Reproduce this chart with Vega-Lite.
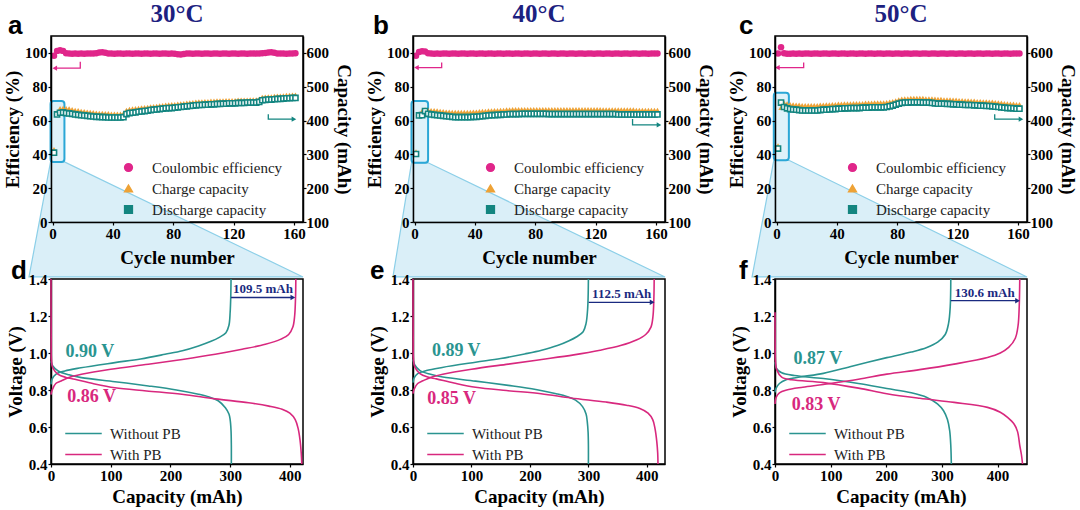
{
"$schema": "https://vega.github.io/schema/vega-lite/v6.json",
"padding": {"left": 2, "top": 0, "right": 0, "bottom": 0},
"config": {
  "view": {"stroke": "#000", "strokeWidth": 1.5},
  "font": "Liberation Serif",
  "axis": {"grid": false, "domainColor": "#000", "domainWidth": 1.5, "tickColor": "#000", "tickSize": 3, "tickWidth": 1.2, "labelFont": "Liberation Serif", "labelFontWeight": "bold", "labelFontSize": 15, "labelColor": "#000", "titleFont": "Liberation Serif", "titleFontWeight": "bold", "titleFontSize": 19, "titleColor": "#000", "labelFlush": false, "labelOverlap": false, "labelBound": false, "labelSeparation": -40, "zindex": 2},
  "legend": {"labelFont": "Liberation Serif", "labelFontSize": 15, "labelColor": "#222"}
},
"datasets": {
"cA": [
{"c":1,"e":98.3,"q":315,"d":305},{"c":3,"e":101.2,"q":424,"d":418},{"c":5,"e":101.6,"q":436,"d":423},{"c":7,"e":101.2,"q":437,"d":424},{"c":9,"e":99.8,"q":436,"d":422},
{"c":11,"e":99.6,"q":435,"d":421},{"c":13,"e":99.5,"q":433,"d":420},{"c":15,"e":99.6,"q":431,"d":418},{"c":17,"e":99.5,"q":430,"d":417},{"c":19,"e":99.6,"q":428,"d":416},
{"c":21,"e":99.5,"q":427,"d":415},{"c":23,"e":99.6,"q":426,"d":414},{"c":25,"e":99.6,"q":425,"d":413},{"c":27,"e":99.7,"q":424,"d":412},{"c":29,"e":99.8,"q":423,"d":411},
{"c":31,"e":100.2,"q":422,"d":411},{"c":33,"e":100.4,"q":422,"d":410},{"c":35,"e":100.1,"q":421,"d":410},{"c":37,"e":99.7,"q":421,"d":409},{"c":39,"e":99.6,"q":420,"d":409},
{"c":41,"e":99.5,"q":420,"d":409},{"c":43,"e":99.6,"q":420,"d":409},{"c":45,"e":99.6,"q":420,"d":409},{"c":47,"e":99.5,"q":421,"d":410},{"c":49,"e":99.7,"q":431,"d":419},
{"c":51,"e":99.6,"q":434,"d":422},{"c":53,"e":99.5,"q":435,"d":423},{"c":55,"e":99.6,"q":436,"d":424},{"c":57,"e":99.6,"q":437,"d":426},{"c":59,"e":99.5,"q":438,"d":427},
{"c":61,"e":99.6,"q":439,"d":428},{"c":63,"e":99.6,"q":440,"d":429},{"c":65,"e":99.5,"q":441,"d":431},{"c":67,"e":99.6,"q":442,"d":432},{"c":69,"e":99.6,"q":443,"d":433},
{"c":71,"e":99.5,"q":444,"d":434},{"c":73,"e":99.6,"q":445,"d":435},{"c":75,"e":99.6,"q":446,"d":436},{"c":77,"e":99.5,"q":447,"d":437},{"c":79,"e":99.6,"q":448,"d":437},
{"c":81,"e":99.5,"q":448,"d":438},{"c":83,"e":99.2,"q":449,"d":439},{"c":85,"e":99.0,"q":450,"d":440},{"c":87,"e":99.4,"q":451,"d":441},{"c":89,"e":99.6,"q":452,"d":442},
{"c":91,"e":99.6,"q":453,"d":443},{"c":93,"e":99.5,"q":454,"d":444},{"c":95,"e":99.6,"q":455,"d":445},{"c":97,"e":99.6,"q":456,"d":446},{"c":99,"e":99.5,"q":456,"d":446},
{"c":101,"e":99.6,"q":457,"d":447},{"c":103,"e":99.6,"q":457,"d":447},{"c":105,"e":99.5,"q":458,"d":448},{"c":107,"e":99.6,"q":458,"d":448},{"c":109,"e":99.6,"q":459,"d":449},
{"c":111,"e":99.5,"q":459,"d":449},{"c":113,"e":99.6,"q":459,"d":450},{"c":115,"e":99.6,"q":460,"d":450},{"c":117,"e":99.5,"q":460,"d":451},{"c":119,"e":99.6,"q":460,"d":451},
{"c":121,"e":99.6,"q":460,"d":451},{"c":123,"e":99.5,"q":461,"d":452},{"c":125,"e":99.6,"q":461,"d":452},{"c":127,"e":99.6,"q":461,"d":452},{"c":129,"e":99.5,"q":461,"d":453},
{"c":131,"e":99.6,"q":462,"d":453},{"c":133,"e":99.6,"q":462,"d":453},{"c":135,"e":99.6,"q":462,"d":453},{"c":137,"e":99.7,"q":464,"d":455},{"c":139,"e":99.8,"q":469,"d":460},
{"c":141,"e":99.9,"q":470,"d":461},{"c":143,"e":100.2,"q":471,"d":462},{"c":145,"e":100.4,"q":471,"d":462},{"c":147,"e":100.1,"q":472,"d":463},{"c":149,"e":99.7,"q":473,"d":464},
{"c":151,"e":99.6,"q":473,"d":464},{"c":153,"e":99.6,"q":474,"d":465},{"c":155,"e":99.5,"q":475,"d":466},{"c":157,"e":99.6,"q":475,"d":466},{"c":159,"e":99.7,"q":476,"d":467},
{"c":161,"e":99.8,"q":476,"d":467}
],
"cB": [
{"c":1,"e":98.3,"q":308,"d":301},{"c":3,"e":100.6,"q":420,"d":415},{"c":5,"e":101.0,"q":428,"d":416},{"c":7,"e":100.9,"q":432,"d":428},{"c":9,"e":99.8,"q":431,"d":420},
{"c":11,"e":99.6,"q":430,"d":418},{"c":13,"e":99.5,"q":430,"d":417},{"c":15,"e":99.6,"q":429,"d":416},{"c":17,"e":99.5,"q":428,"d":415},{"c":19,"e":99.6,"q":427,"d":414},
{"c":21,"e":99.6,"q":426,"d":413},{"c":23,"e":99.5,"q":426,"d":412},{"c":25,"e":99.6,"q":425,"d":411},{"c":27,"e":99.6,"q":425,"d":410},{"c":29,"e":99.5,"q":425,"d":410},
{"c":31,"e":99.6,"q":425,"d":410},{"c":33,"e":99.6,"q":425,"d":410},{"c":35,"e":99.5,"q":425,"d":410},{"c":37,"e":99.6,"q":425,"d":410},{"c":39,"e":99.6,"q":426,"d":411},
{"c":41,"e":99.5,"q":426,"d":411},{"c":43,"e":99.6,"q":427,"d":412},{"c":45,"e":99.6,"q":428,"d":413},{"c":47,"e":99.5,"q":428,"d":414},{"c":49,"e":99.6,"q":429,"d":415},
{"c":51,"e":99.6,"q":429,"d":416},{"c":53,"e":99.5,"q":430,"d":416},{"c":55,"e":99.6,"q":430,"d":417},{"c":57,"e":99.6,"q":431,"d":417},{"c":59,"e":99.5,"q":431,"d":418},
{"c":61,"e":99.6,"q":432,"d":418},{"c":63,"e":99.6,"q":432,"d":419},{"c":65,"e":99.5,"q":433,"d":419},{"c":67,"e":99.6,"q":433,"d":419},{"c":69,"e":99.6,"q":433,"d":419},
{"c":71,"e":99.5,"q":433,"d":420},{"c":73,"e":99.6,"q":433,"d":420},{"c":75,"e":99.6,"q":433,"d":420},{"c":77,"e":99.5,"q":433,"d":420},{"c":79,"e":99.6,"q":433,"d":420},
{"c":81,"e":99.6,"q":433,"d":420},{"c":83,"e":99.5,"q":433,"d":420},{"c":85,"e":99.6,"q":433,"d":420},{"c":87,"e":99.6,"q":433,"d":420},{"c":89,"e":99.5,"q":433,"d":419},
{"c":91,"e":99.6,"q":433,"d":419},{"c":93,"e":99.6,"q":433,"d":419},{"c":95,"e":99.5,"q":433,"d":419},{"c":97,"e":99.6,"q":433,"d":419},{"c":99,"e":99.6,"q":433,"d":419},
{"c":101,"e":99.5,"q":433,"d":419},{"c":103,"e":99.6,"q":433,"d":419},{"c":105,"e":99.6,"q":433,"d":419},{"c":107,"e":99.5,"q":433,"d":419},{"c":109,"e":99.6,"q":433,"d":419},
{"c":111,"e":99.6,"q":433,"d":419},{"c":113,"e":99.5,"q":433,"d":419},{"c":115,"e":99.6,"q":433,"d":419},{"c":117,"e":99.6,"q":433,"d":419},{"c":119,"e":99.5,"q":433,"d":419},
{"c":121,"e":99.6,"q":433,"d":419},{"c":123,"e":99.6,"q":433,"d":419},{"c":125,"e":99.5,"q":432,"d":419},{"c":127,"e":99.6,"q":432,"d":419},{"c":129,"e":99.6,"q":432,"d":419},
{"c":131,"e":99.5,"q":432,"d":419},{"c":133,"e":99.6,"q":432,"d":419},{"c":135,"e":99.6,"q":432,"d":418},{"c":137,"e":99.5,"q":432,"d":418},{"c":139,"e":99.6,"q":432,"d":418},
{"c":141,"e":99.6,"q":432,"d":418},{"c":143,"e":99.5,"q":432,"d":418},{"c":145,"e":99.6,"q":432,"d":418},{"c":147,"e":99.6,"q":431,"d":418},{"c":149,"e":99.5,"q":431,"d":418},
{"c":151,"e":99.6,"q":431,"d":418},{"c":153,"e":99.6,"q":431,"d":418},{"c":155,"e":99.5,"q":431,"d":418},{"c":157,"e":99.6,"q":431,"d":418},{"c":159,"e":99.6,"q":431,"d":418},
{"c":161,"e":99.6,"q":431,"d":418}
],
"cC": [
{"c":1,"e":99.6,"q":326,"d":317},{"c":3,"e":103.4,"q":438,"d":453},{"c":5,"e":99.8,"q":452,"d":440},{"c":7,"e":99.5,"q":450,"d":436},{"c":9,"e":99.5,"q":448,"d":434},
{"c":11,"e":99.6,"q":447,"d":433},{"c":13,"e":99.5,"q":446,"d":432},{"c":15,"e":99.6,"q":446,"d":431},{"c":17,"e":99.5,"q":445,"d":430},{"c":19,"e":99.6,"q":445,"d":430},
{"c":21,"e":99.6,"q":445,"d":430},{"c":23,"e":99.5,"q":445,"d":430},{"c":25,"e":99.6,"q":445,"d":430},{"c":27,"e":99.6,"q":445,"d":430},{"c":29,"e":99.5,"q":446,"d":431},
{"c":31,"e":99.6,"q":446,"d":432},{"c":33,"e":99.6,"q":447,"d":432},{"c":35,"e":99.5,"q":447,"d":433},{"c":37,"e":99.6,"q":448,"d":434},{"c":39,"e":99.6,"q":448,"d":434},
{"c":41,"e":99.5,"q":449,"d":435},{"c":43,"e":99.6,"q":449,"d":435},{"c":45,"e":99.6,"q":450,"d":436},{"c":47,"e":99.5,"q":450,"d":436},{"c":49,"e":99.6,"q":450,"d":437},
{"c":51,"e":99.6,"q":451,"d":437},{"c":53,"e":99.5,"q":451,"d":437},{"c":55,"e":99.6,"q":451,"d":437},{"c":57,"e":99.6,"q":451,"d":438},{"c":59,"e":99.5,"q":452,"d":438},
{"c":61,"e":99.6,"q":452,"d":438},{"c":63,"e":99.6,"q":452,"d":439},{"c":65,"e":99.5,"q":453,"d":439},{"c":67,"e":99.6,"q":453,"d":439},{"c":69,"e":99.6,"q":453,"d":439},
{"c":71,"e":99.5,"q":453,"d":439},{"c":73,"e":99.6,"q":454,"d":440},{"c":75,"e":99.6,"q":455,"d":442},{"c":77,"e":99.5,"q":457,"d":444},{"c":79,"e":99.6,"q":459,"d":447},
{"c":81,"e":99.6,"q":462,"d":450},{"c":83,"e":99.5,"q":464,"d":452},{"c":85,"e":99.6,"q":465,"d":453},{"c":87,"e":99.6,"q":465,"d":453},{"c":89,"e":99.5,"q":466,"d":454},
{"c":91,"e":99.6,"q":466,"d":454},{"c":93,"e":99.6,"q":466,"d":454},{"c":95,"e":99.5,"q":466,"d":454},{"c":97,"e":99.6,"q":466,"d":453},{"c":99,"e":99.6,"q":465,"d":453},
{"c":101,"e":99.5,"q":465,"d":453},{"c":103,"e":99.6,"q":465,"d":452},{"c":105,"e":99.6,"q":464,"d":451},{"c":107,"e":99.5,"q":463,"d":450},{"c":109,"e":99.6,"q":463,"d":450},
{"c":111,"e":99.6,"q":462,"d":450},{"c":113,"e":99.5,"q":462,"d":449},{"c":115,"e":99.6,"q":462,"d":449},{"c":117,"e":99.6,"q":461,"d":448},{"c":119,"e":99.5,"q":461,"d":448},
{"c":121,"e":99.6,"q":460,"d":447},{"c":123,"e":99.6,"q":460,"d":447},{"c":125,"e":99.5,"q":459,"d":446},{"c":127,"e":99.6,"q":459,"d":446},{"c":129,"e":99.6,"q":458,"d":446},
{"c":131,"e":99.5,"q":458,"d":445},{"c":133,"e":99.6,"q":457,"d":445},{"c":135,"e":99.6,"q":457,"d":444},{"c":137,"e":99.5,"q":456,"d":444},{"c":139,"e":99.6,"q":456,"d":443},
{"c":141,"e":99.6,"q":455,"d":443},{"c":143,"e":99.5,"q":455,"d":442},{"c":145,"e":99.6,"q":454,"d":441},{"c":147,"e":99.6,"q":453,"d":440},{"c":149,"e":99.5,"q":452,"d":439},
{"c":151,"e":99.6,"q":451,"d":438},{"c":153,"e":99.6,"q":450,"d":437},{"c":155,"e":99.5,"q":449,"d":437},{"c":157,"e":99.6,"q":449,"d":436},{"c":159,"e":99.6,"q":448,"d":435},
{"c":161,"e":99.6,"q":448,"d":435}
],
"tA": [{"y":35.5,"x":-1.3,"x2":7.9},{"y":-32.5,"x":-15.6,"x2":166}],
"tB": [{"y":35,"x":-2,"x2":9},{"y":-32.5,"x":-14.3,"x2":166}],
"tC": [{"y":36.5,"x":-1.8,"x2":8.2},{"y":-32.5,"x":-16.2,"x2":166}],
"rA": [{"x":-1.3,"x2":7.9,"y":35.5,"y2":71.6}],
"rB": [{"x":-2,"x2":9,"y":35,"y2":71.6}],
"rC": [{"x":-1.8,"x2":8.2,"y":36.5,"y2":76.5}],
"aA": [{"k":"m","i":0,"x":18.4,"y":94.7},{"k":"m","i":1,"x":18.4,"y":91},{"k":"m","i":2,"x":1.5,"y":91},{"k":"t","i":0,"x":143,"y":63.7},{"k":"t","i":1,"x":143,"y":60.8},{"k":"t","i":2,"x":160,"y":60.8}],
"aB": [{"k":"m","i":0,"x":18,"y":94.3},{"k":"m","i":1,"x":18,"y":91.3},{"k":"m","i":2,"x":1.3,"y":91.3},{"k":"t","i":0,"x":144.5,"y":60.9},{"k":"t","i":1,"x":144.5,"y":57.4},{"k":"t","i":2,"x":162,"y":57.4}],
"aC": [{"k":"m","i":0,"x":18,"y":94.3},{"k":"m","i":1,"x":18,"y":91.3},{"k":"m","i":2,"x":0.6,"y":91.3},{"k":"t","i":0,"x":144.6,"y":63.7},{"k":"t","i":1,"x":144.6,"y":60.8},{"k":"t","i":2,"x":162,"y":60.8}],
"vD": [
{"s":"Without PB","g":"c","i":0,"x":0,"v":0.83},{"s":"Without PB","g":"c","i":1,"x":2,"v":0.86},{"s":"Without PB","g":"c","i":2,"x":8,"v":0.885},{"s":"Without PB","g":"c","i":3,"x":23,"v":0.903},{"s":"Without PB","g":"c","i":4,"x":50,"v":0.92},{"s":"Without PB","g":"c","i":5,"x":107,"v":0.948},{"s":"Without PB","g":"c","i":6,"x":150,"v":0.968},{"s":"Without PB","g":"c","i":7,"x":191,"v":0.993},{"s":"Without PB","g":"c","i":8,"x":220,"v":1.012},{"s":"Without PB","g":"c","i":9,"x":247,"v":1.038},{"s":"Without PB","g":"c","i":10,"x":268,"v":1.063},{"s":"Without PB","g":"c","i":11,"x":281,"v":1.083},{"s":"Without PB","g":"c","i":12,"x":293,"v":1.11},{"s":"Without PB","g":"c","i":13,"x":298,"v":1.15},{"s":"Without PB","g":"c","i":14,"x":300,"v":1.22},{"s":"Without PB","g":"c","i":15,"x":301,"v":1.3},{"s":"Without PB","g":"c","i":16,"x":301.5,"v":1.4},
{"s":"Without PB","g":"d","i":0,"x":0,"v":0.955},{"s":"Without PB","g":"d","i":1,"x":3,"v":0.93},{"s":"Without PB","g":"d","i":2,"x":12,"v":0.903},{"s":"Without PB","g":"d","i":3,"x":30,"v":0.882},{"s":"Without PB","g":"d","i":4,"x":51,"v":0.867},{"s":"Without PB","g":"d","i":5,"x":107,"v":0.845},{"s":"Without PB","g":"d","i":6,"x":163,"v":0.822},{"s":"Without PB","g":"d","i":7,"x":210,"v":0.8},{"s":"Without PB","g":"d","i":8,"x":247,"v":0.777},{"s":"Without PB","g":"d","i":9,"x":265,"v":0.762},{"s":"Without PB","g":"d","i":10,"x":280,"v":0.742},{"s":"Without PB","g":"d","i":11,"x":292,"v":0.704},{"s":"Without PB","g":"d","i":12,"x":298,"v":0.67},{"s":"Without PB","g":"d","i":13,"x":300,"v":0.64},{"s":"Without PB","g":"d","i":14,"x":301.5,"v":0.58},{"s":"Without PB","g":"d","i":15,"x":302,"v":0.5},{"s":"Without PB","g":"d","i":16,"x":302,"v":0.4},
{"s":"With PB","g":"c","i":0,"x":0,"v":0.775},{"s":"With PB","g":"c","i":1,"x":2,"v":0.8},{"s":"With PB","g":"c","i":2,"x":8,"v":0.835},{"s":"With PB","g":"c","i":3,"x":17,"v":0.849},{"s":"With PB","g":"c","i":4,"x":30,"v":0.868},{"s":"With PB","g":"c","i":5,"x":51,"v":0.885},{"s":"With PB","g":"c","i":6,"x":100,"v":0.912},{"s":"With PB","g":"c","i":7,"x":163,"v":0.939},{"s":"With PB","g":"c","i":8,"x":220,"v":0.965},{"s":"With PB","g":"c","i":9,"x":275,"v":0.993},{"s":"With PB","g":"c","i":10,"x":320,"v":1.02},{"s":"With PB","g":"c","i":11,"x":359,"v":1.047},{"s":"With PB","g":"c","i":12,"x":385,"v":1.075},{"s":"With PB","g":"c","i":13,"x":398,"v":1.1},{"s":"With PB","g":"c","i":14,"x":405,"v":1.14},{"s":"With PB","g":"c","i":15,"x":408,"v":1.2},{"s":"With PB","g":"c","i":16,"x":409.5,"v":1.3},{"s":"With PB","g":"c","i":17,"x":410,"v":1.4},
{"s":"With PB","g":"d","i":0,"x":0,"v":1.4},{"s":"With PB","g":"d","i":1,"x":0.3,"v":1.1},{"s":"With PB","g":"d","i":2,"x":0.8,"v":0.96},{"s":"With PB","g":"d","i":3,"x":3,"v":0.92},{"s":"With PB","g":"d","i":4,"x":12,"v":0.885},{"s":"With PB","g":"d","i":5,"x":25,"v":0.868},{"s":"With PB","g":"d","i":6,"x":40,"v":0.858},{"s":"With PB","g":"d","i":7,"x":70,"v":0.835},{"s":"With PB","g":"d","i":8,"x":107,"v":0.812},{"s":"With PB","g":"d","i":9,"x":160,"v":0.795},{"s":"With PB","g":"d","i":10,"x":219,"v":0.777},{"s":"With PB","g":"d","i":11,"x":275,"v":0.752},{"s":"With PB","g":"d","i":12,"x":331,"v":0.731},{"s":"With PB","g":"d","i":13,"x":365,"v":0.713},{"s":"With PB","g":"d","i":14,"x":387,"v":0.696},{"s":"With PB","g":"d","i":15,"x":400,"v":0.675},{"s":"With PB","g":"d","i":16,"x":409,"v":0.64},{"s":"With PB","g":"d","i":17,"x":414,"v":0.59},{"s":"With PB","g":"d","i":18,"x":417,"v":0.53},{"s":"With PB","g":"d","i":19,"x":419,"v":0.46},{"s":"With PB","g":"d","i":20,"x":420,"v":0.4}
],
"vE": [
{"s":"Without PB","g":"c","i":0,"x":0,"v":0.84},{"s":"Without PB","g":"c","i":1,"x":2,"v":0.865},{"s":"Without PB","g":"c","i":2,"x":8,"v":0.888},{"s":"Without PB","g":"c","i":3,"x":23,"v":0.905},{"s":"Without PB","g":"c","i":4,"x":50,"v":0.922},{"s":"Without PB","g":"c","i":5,"x":107,"v":0.95},{"s":"Without PB","g":"c","i":6,"x":150,"v":0.97},{"s":"Without PB","g":"c","i":7,"x":191,"v":0.995},{"s":"Without PB","g":"c","i":8,"x":220,"v":1.015},{"s":"Without PB","g":"c","i":9,"x":247,"v":1.04},{"s":"Without PB","g":"c","i":10,"x":266,"v":1.065},{"s":"Without PB","g":"c","i":11,"x":280,"v":1.088},{"s":"Without PB","g":"c","i":12,"x":291,"v":1.115},{"s":"Without PB","g":"c","i":13,"x":296,"v":1.16},{"s":"Without PB","g":"c","i":14,"x":298.5,"v":1.23},{"s":"Without PB","g":"c","i":15,"x":299.5,"v":1.3},{"s":"Without PB","g":"c","i":16,"x":300,"v":1.4},
{"s":"Without PB","g":"d","i":0,"x":0,"v":0.965},{"s":"Without PB","g":"d","i":1,"x":3,"v":0.935},{"s":"Without PB","g":"d","i":2,"x":12,"v":0.905},{"s":"Without PB","g":"d","i":3,"x":30,"v":0.885},{"s":"Without PB","g":"d","i":4,"x":51,"v":0.87},{"s":"Without PB","g":"d","i":5,"x":107,"v":0.848},{"s":"Without PB","g":"d","i":6,"x":163,"v":0.825},{"s":"Without PB","g":"d","i":7,"x":210,"v":0.803},{"s":"Without PB","g":"d","i":8,"x":245,"v":0.78},{"s":"Without PB","g":"d","i":9,"x":263,"v":0.765},{"s":"Without PB","g":"d","i":10,"x":278,"v":0.745},{"s":"Without PB","g":"d","i":11,"x":290,"v":0.71},{"s":"Without PB","g":"d","i":12,"x":296,"v":0.67},{"s":"Without PB","g":"d","i":13,"x":298,"v":0.63},{"s":"Without PB","g":"d","i":14,"x":299.5,"v":0.57},{"s":"Without PB","g":"d","i":15,"x":300,"v":0.5},{"s":"Without PB","g":"d","i":16,"x":300,"v":0.4},
{"s":"With PB","g":"c","i":0,"x":0,"v":0.78},{"s":"With PB","g":"c","i":1,"x":2,"v":0.805},{"s":"With PB","g":"c","i":2,"x":8,"v":0.835},{"s":"With PB","g":"c","i":3,"x":17,"v":0.85},{"s":"With PB","g":"c","i":4,"x":30,"v":0.868},{"s":"With PB","g":"c","i":5,"x":51,"v":0.885},{"s":"With PB","g":"c","i":6,"x":100,"v":0.912},{"s":"With PB","g":"c","i":7,"x":163,"v":0.94},{"s":"With PB","g":"c","i":8,"x":220,"v":0.965},{"s":"With PB","g":"c","i":9,"x":275,"v":0.99},{"s":"With PB","g":"c","i":10,"x":320,"v":1.015},{"s":"With PB","g":"c","i":11,"x":355,"v":1.04},{"s":"With PB","g":"c","i":12,"x":382,"v":1.07},{"s":"With PB","g":"c","i":13,"x":398,"v":1.1},{"s":"With PB","g":"c","i":14,"x":407,"v":1.14},{"s":"With PB","g":"c","i":15,"x":410.5,"v":1.2},{"s":"With PB","g":"c","i":16,"x":412,"v":1.3},{"s":"With PB","g":"c","i":17,"x":412.5,"v":1.4},
{"s":"With PB","g":"d","i":0,"x":0,"v":1.4},{"s":"With PB","g":"d","i":1,"x":0.3,"v":1.1},{"s":"With PB","g":"d","i":2,"x":0.8,"v":0.965},{"s":"With PB","g":"d","i":3,"x":3,"v":0.925},{"s":"With PB","g":"d","i":4,"x":12,"v":0.888},{"s":"With PB","g":"d","i":5,"x":25,"v":0.87},{"s":"With PB","g":"d","i":6,"x":40,"v":0.86},{"s":"With PB","g":"d","i":7,"x":70,"v":0.838},{"s":"With PB","g":"d","i":8,"x":107,"v":0.815},{"s":"With PB","g":"d","i":9,"x":160,"v":0.797},{"s":"With PB","g":"d","i":10,"x":219,"v":0.78},{"s":"With PB","g":"d","i":11,"x":270,"v":0.757},{"s":"With PB","g":"d","i":12,"x":330,"v":0.735},{"s":"With PB","g":"d","i":13,"x":365,"v":0.718},{"s":"With PB","g":"d","i":14,"x":388,"v":0.7},{"s":"With PB","g":"d","i":15,"x":402,"v":0.675},{"s":"With PB","g":"d","i":16,"x":410,"v":0.64},{"s":"With PB","g":"d","i":17,"x":414,"v":0.59},{"s":"With PB","g":"d","i":18,"x":417,"v":0.52},{"s":"With PB","g":"d","i":19,"x":418.5,"v":0.46},{"s":"With PB","g":"d","i":20,"x":419,"v":0.4}
],
"vF": [
{"s":"Without PB","g":"c","i":0,"x":0,"v":0.787},{"s":"Without PB","g":"c","i":1,"x":2,"v":0.81},{"s":"Without PB","g":"c","i":2,"x":8,"v":0.835},{"s":"Without PB","g":"c","i":3,"x":20,"v":0.855},{"s":"Without PB","g":"c","i":4,"x":45,"v":0.87},{"s":"Without PB","g":"c","i":5,"x":87,"v":0.89},{"s":"Without PB","g":"c","i":6,"x":140,"v":0.93},{"s":"Without PB","g":"c","i":7,"x":201,"v":0.975},{"s":"Without PB","g":"c","i":8,"x":245,"v":1.005},{"s":"Without PB","g":"c","i":9,"x":273,"v":1.03},{"s":"Without PB","g":"c","i":10,"x":293,"v":1.06},{"s":"Without PB","g":"c","i":11,"x":306,"v":1.1},{"s":"Without PB","g":"c","i":12,"x":312,"v":1.16},{"s":"Without PB","g":"c","i":13,"x":315,"v":1.25},{"s":"Without PB","g":"c","i":14,"x":316,"v":1.4},
{"s":"Without PB","g":"d","i":0,"x":0,"v":0.95},{"s":"Without PB","g":"d","i":1,"x":3,"v":0.915},{"s":"Without PB","g":"d","i":2,"x":12,"v":0.893},{"s":"Without PB","g":"d","i":3,"x":35,"v":0.878},{"s":"Without PB","g":"d","i":4,"x":87,"v":0.862},{"s":"Without PB","g":"d","i":5,"x":150,"v":0.835},{"s":"Without PB","g":"d","i":6,"x":201,"v":0.808},{"s":"Without PB","g":"d","i":7,"x":245,"v":0.785},{"s":"Without PB","g":"d","i":8,"x":273,"v":0.76},{"s":"Without PB","g":"d","i":9,"x":292,"v":0.725},{"s":"Without PB","g":"d","i":10,"x":303,"v":0.688},{"s":"Without PB","g":"d","i":11,"x":310,"v":0.64},{"s":"Without PB","g":"d","i":12,"x":314,"v":0.58},{"s":"Without PB","g":"d","i":13,"x":316,"v":0.5},{"s":"Without PB","g":"d","i":14,"x":317,"v":0.4},
{"s":"With PB","g":"c","i":0,"x":0,"v":0.724},{"s":"With PB","g":"c","i":1,"x":2,"v":0.76},{"s":"With PB","g":"c","i":2,"x":8,"v":0.785},{"s":"With PB","g":"c","i":3,"x":21,"v":0.8},{"s":"With PB","g":"c","i":4,"x":50,"v":0.815},{"s":"With PB","g":"c","i":5,"x":87,"v":0.83},{"s":"With PB","g":"c","i":6,"x":150,"v":0.858},{"s":"With PB","g":"c","i":7,"x":201,"v":0.886},{"s":"With PB","g":"c","i":8,"x":260,"v":0.91},{"s":"With PB","g":"c","i":9,"x":322,"v":0.94},{"s":"With PB","g":"c","i":10,"x":382,"v":0.976},{"s":"With PB","g":"c","i":11,"x":405,"v":1.0},{"s":"With PB","g":"c","i":12,"x":420,"v":1.03},{"s":"With PB","g":"c","i":13,"x":432,"v":1.08},{"s":"With PB","g":"c","i":14,"x":437,"v":1.15},{"s":"With PB","g":"c","i":15,"x":439,"v":1.25},{"s":"With PB","g":"c","i":16,"x":440,"v":1.4},
{"s":"With PB","g":"d","i":0,"x":0,"v":1.22},{"s":"With PB","g":"d","i":1,"x":0.3,"v":1.05},{"s":"With PB","g":"d","i":2,"x":0.8,"v":0.96},{"s":"With PB","g":"d","i":3,"x":3,"v":0.91},{"s":"With PB","g":"d","i":4,"x":12,"v":0.87},{"s":"With PB","g":"d","i":5,"x":30,"v":0.855},{"s":"With PB","g":"d","i":6,"x":87,"v":0.84},{"s":"With PB","g":"d","i":7,"x":150,"v":0.81},{"s":"With PB","g":"d","i":8,"x":201,"v":0.78},{"s":"With PB","g":"d","i":9,"x":260,"v":0.755},{"s":"With PB","g":"d","i":10,"x":322,"v":0.733},{"s":"With PB","g":"d","i":11,"x":382,"v":0.706},{"s":"With PB","g":"d","i":12,"x":405,"v":0.68},{"s":"With PB","g":"d","i":13,"x":418,"v":0.652},{"s":"With PB","g":"d","i":14,"x":430,"v":0.615},{"s":"With PB","g":"d","i":15,"x":436,"v":0.575},{"s":"With PB","g":"d","i":16,"x":440,"v":0.5},{"s":"With PB","g":"d","i":17,"x":443,"v":0.45},{"s":"With PB","g":"d","i":18,"x":445,"v":0.4}
]
},
"hconcat": [
{"vconcat": [
 {"width": 252, "height": 186,
  "layer": [
   {"layer": [
    {"data": {"name": "tA"}, "mark": {"type": "area", "orient": "horizontal", "fill": "#d3ecf7", "fillOpacity": 0.85, "stroke": "#8ccfe8", "strokeWidth": 1.2},
     "encoding": {"x": {"field": "x", "type": "quantitative", "scale": {"domain": [-1, 166], "nice": false, "zero": false}, "axis": {"values": [0,40,80,120,160], "title": "Cycle number", "labelPadding": 1, "titlePadding": 7, "labelOverlap": false, "zindex": 2}}, "x2": {"field": "x2"},
      "y": {"field": "y", "type": "quantitative", "scale": {"domain": [0, 110], "nice": false}, "axis": {"tickCount": 6, "title": "Efficiency (%)", "labelPadding": 1, "titlePadding": 2, "labelOverlap": false, "labelSeparation": -40, "zindex": 2}}}},
    {"data": {"name": "rA"}, "mark": {"type": "rect", "cornerRadius": 3, "fill": "#dff2fa", "stroke": "#2ba7d6", "strokeWidth": 2},
     "encoding": {"x": {"field": "x", "type": "quantitative"}, "x2": {"field": "x2"}, "y": {"field": "y", "type": "quantitative"}, "y2": {"field": "y2"}}},
    {"data": {"name": "aA"}, "mark": {"type": "line", "strokeWidth": 1.3},
     "encoding": {"x": {"field": "x", "type": "quantitative"}, "y": {"field": "y", "type": "quantitative"}, "detail": {"field": "k"}, "order": {"field": "i", "type": "quantitative"}, "stroke": {"condition": {"test": "datum.k==='m'", "value": "#e0268a"}, "value": "#138580"}}},
    {"data": {"name": "aA"}, "transform": [{"filter": "datum.i===2"}], "mark": {"type": "point", "filled": true, "size": 28, "opacity": 1},
     "encoding": {"x": {"field": "x", "type": "quantitative"}, "y": {"field": "y", "type": "quantitative"}, "shape": {"condition": {"test": "datum.k==='m'", "value": "triangle-left"}, "value": "triangle-right"}, "fill": {"condition": {"test": "datum.k==='m'", "value": "#e0268a"}, "value": "#138580"}}},
    {"data": {"name": "cA"}, "mark": {"type": "point", "filled": true, "size": 42, "opacity": 1},
     "encoding": {"x": {"field": "c", "type": "quantitative"}, "y": {"field": "e", "type": "quantitative"},
      "color": {"datum": "Coulombic efficiency", "scale": {"domain": ["Coulombic efficiency","Charge capacity","Discharge capacity"], "range": ["#e0268a","#eea236","#138580"]}, "legend": {"orient": "none", "legendX": 70, "legendY": 124, "title": null, "symbolSize": 60, "labelOffset": 16, "rowPadding": 5}},
      "shape": {"datum": "Coulombic efficiency", "scale": {"domain": ["Coulombic efficiency","Charge capacity","Discharge capacity"], "range": ["circle","triangle-up","square"]}, "legend": {"orient": "none", "legendX": 70, "legendY": 124, "title": null, "symbolSize": 60, "labelOffset": 16, "rowPadding": 5}}}},
    {"data": {"values": [{}]}, "mark": {"type": "text", "font": "Liberation Sans", "fontWeight": "bold", "fontSize": 26, "align": "left", "baseline": "alphabetic", "color": "#000"},
     "encoding": {"x": {"datum": -29.5}, "y": {"datum": 111}, "text": {"value": "a"}}},
    {"data": {"values": [{}]}, "mark": {"type": "text", "font": "Liberation Serif", "fontWeight": "bold", "fontSize": 25, "align": "center", "baseline": "alphabetic", "color": "#1c2180"},
     "encoding": {"x": {"datum": 82.5}, "y": {"datum": 118.5}, "text": {"value": "30°C"}}}
   ]},
   {"layer": [
    {"data": {"name": "cA"}, "mark": {"type": "point", "filled": true, "size": 30, "opacity": 1},
     "encoding": {"x": {"field": "c", "type": "quantitative"}, "y": {"field": "q", "type": "quantitative", "scale": {"domain": [100, 650], "nice": false, "zero": false}, "axis": {"orient": "right", "values": [100,200,300,400,500,600], "title": "Capacity (mAh)", "labelPadding": 0, "titlePadding": 5, "labelOverlap": false, "zindex": 2}}, "color": {"datum": "Charge capacity"}, "shape": {"datum": "Charge capacity"}}},
    {"data": {"name": "cA"}, "mark": {"type": "point", "filled": false, "fill": "#ffffff", "fillOpacity": 1, "strokeWidth": 1.6, "size": 26, "opacity": 1},
     "encoding": {"x": {"field": "c", "type": "quantitative"}, "y": {"field": "d", "type": "quantitative", "axis": {"orient": "right", "values": [100,200,300,400,500,600], "title": "Capacity (mAh)", "labelPadding": 0, "titlePadding": 5, "labelOverlap": false, "zindex": 2}}, "color": {"datum": "Discharge capacity"}, "shape": {"datum": "Discharge capacity"}}}
   ]}
  ],
  "resolve": {"scale": {"y": "independent"}}
 },
 {"width": 252, "height": 185,
  "layer": [
   {"data": {"name": "vD"}, "mark": {"type": "line", "strokeWidth": 1.6, "interpolate": "catmull-rom"},
    "encoding": {"x": {"field": "x", "type": "quantitative", "scale": {"domain": [0, 422], "nice": false}, "axis": {"values": [0,100,200,300,400], "title": "Capacity (mAh)", "labelPadding": 1, "titlePadding": 4, "labelOverlap": false}},
     "y": {"field": "v", "type": "quantitative", "scale": {"domain": [0.4, 1.4], "nice": false, "zero": false}, "axis": {"tickCount": 5, "format": ".1f", "title": "Voltage (V)", "labelPadding": 1, "titlePadding": 3, "labelOverlap": false, "labelSeparation": -40}},
     "color": {"field": "s", "type": "nominal", "scale": {"domain": ["Without PB","With PB"], "range": ["#2a9490","#d8287e"]}, "legend": {"orient": "none", "legendX": 25, "legendY": 147, "title": null, "symbolType": "M-6,0H6", "symbolSize": 37, "symbolStrokeWidth": 1.6, "labelOffset": 19, "rowPadding": 5}},
     "detail": {"field": "g"}, "order": {"field": "i", "type": "quantitative"}}},
   {"data": {"values": [{}]}, "mark": {"type": "rule", "color": "#1a2a80", "strokeWidth": 1.3}, "encoding": {"x": {"datum": 301.5}, "x2": {"datum": 404}, "y": {"datum": 1.3}}},
   {"data": {"values": [{}]}, "mark": {"type": "point", "shape": "triangle-right", "filled": true, "size": 30, "color": "#1a2a80", "opacity": 1}, "encoding": {"x": {"datum": 405}, "y": {"datum": 1.3}}},
   {"data": {"values": [{}]}, "mark": {"type": "text", "font": "Liberation Serif", "fontWeight": "bold", "fontSize": 13, "color": "#1a2a80"}, "encoding": {"x": {"datum": 355}, "y": {"datum": 1.344}, "text": {"value": "109.5 mAh"}}},
   {"data": {"values": [{}]}, "mark": {"type": "text", "font": "Liberation Serif", "fontWeight": "bold", "fontSize": 18, "color": "#2a9490"}, "encoding": {"x": {"datum": 65}, "y": {"datum": 1.003}, "text": {"value": "0.90 V"}}},
   {"data": {"values": [{}]}, "mark": {"type": "text", "font": "Liberation Serif", "fontWeight": "bold", "fontSize": 18, "color": "#d8287e"}, "encoding": {"x": {"datum": 68}, "y": {"datum": 0.76}, "text": {"value": "0.86 V"}}},
   {"data": {"values": [{}]}, "mark": {"type": "text", "font": "Liberation Sans", "fontWeight": "bold", "fontSize": 26, "align": "left", "baseline": "alphabetic", "color": "#000"}, "encoding": {"x": {"datum": -67}, "y": {"datum": 1.4}, "text": {"value": "d"}}}
  ]
 }
], "spacing": 57, "bounds": "flush", "resolve": {"scale": {"x": "independent", "y": "independent", "color": "independent", "shape": "independent"}}},
{"vconcat": [
 {"width": 252, "height": 186,
  "layer": [
   {"layer": [
    {"data": {"name": "tB"}, "mark": {"type": "area", "orient": "horizontal", "fill": "#d3ecf7", "fillOpacity": 0.85, "stroke": "#8ccfe8", "strokeWidth": 1.2},
     "encoding": {"x": {"field": "x", "type": "quantitative", "scale": {"domain": [-1, 166], "nice": false, "zero": false}, "axis": {"values": [0,40,80,120,160], "title": "Cycle number", "labelPadding": 1, "titlePadding": 7, "labelOverlap": false, "zindex": 2}}, "x2": {"field": "x2"},
      "y": {"field": "y", "type": "quantitative", "scale": {"domain": [0, 110], "nice": false}, "axis": {"tickCount": 6, "title": "Efficiency (%)", "labelPadding": 1, "titlePadding": 2, "labelOverlap": false, "labelSeparation": -40, "zindex": 2}}}},
    {"data": {"name": "rB"}, "mark": {"type": "rect", "cornerRadius": 3, "fill": "#dff2fa", "stroke": "#2ba7d6", "strokeWidth": 2},
     "encoding": {"x": {"field": "x", "type": "quantitative"}, "x2": {"field": "x2"}, "y": {"field": "y", "type": "quantitative"}, "y2": {"field": "y2"}}},
    {"data": {"name": "aB"}, "mark": {"type": "line", "strokeWidth": 1.3},
     "encoding": {"x": {"field": "x", "type": "quantitative"}, "y": {"field": "y", "type": "quantitative"}, "detail": {"field": "k"}, "order": {"field": "i", "type": "quantitative"}, "stroke": {"condition": {"test": "datum.k==='m'", "value": "#e0268a"}, "value": "#138580"}}},
    {"data": {"name": "aB"}, "transform": [{"filter": "datum.i===2"}], "mark": {"type": "point", "filled": true, "size": 28, "opacity": 1},
     "encoding": {"x": {"field": "x", "type": "quantitative"}, "y": {"field": "y", "type": "quantitative"}, "shape": {"condition": {"test": "datum.k==='m'", "value": "triangle-left"}, "value": "triangle-right"}, "fill": {"condition": {"test": "datum.k==='m'", "value": "#e0268a"}, "value": "#138580"}}},
    {"data": {"name": "cB"}, "mark": {"type": "point", "filled": true, "size": 42, "opacity": 1},
     "encoding": {"x": {"field": "c", "type": "quantitative"}, "y": {"field": "e", "type": "quantitative"},
      "color": {"datum": "Coulombic efficiency", "scale": {"domain": ["Coulombic efficiency","Charge capacity","Discharge capacity"], "range": ["#e0268a","#eea236","#138580"]}, "legend": {"orient": "none", "legendX": 70, "legendY": 124, "title": null, "symbolSize": 60, "labelOffset": 16, "rowPadding": 5}},
      "shape": {"datum": "Coulombic efficiency", "scale": {"domain": ["Coulombic efficiency","Charge capacity","Discharge capacity"], "range": ["circle","triangle-up","square"]}, "legend": {"orient": "none", "legendX": 70, "legendY": 124, "title": null, "symbolSize": 60, "labelOffset": 16, "rowPadding": 5}}}},
    {"data": {"values": [{}]}, "mark": {"type": "text", "font": "Liberation Sans", "fontWeight": "bold", "fontSize": 26, "align": "left", "baseline": "alphabetic", "color": "#000"},
     "encoding": {"x": {"datum": -27.5}, "y": {"datum": 111}, "text": {"value": "b"}}},
    {"data": {"values": [{}]}, "mark": {"type": "text", "font": "Liberation Serif", "fontWeight": "bold", "fontSize": 25, "align": "center", "baseline": "alphabetic", "color": "#1c2180"},
     "encoding": {"x": {"datum": 82.5}, "y": {"datum": 118.5}, "text": {"value": "40°C"}}}
   ]},
   {"layer": [
    {"data": {"name": "cB"}, "mark": {"type": "point", "filled": true, "size": 30, "opacity": 1},
     "encoding": {"x": {"field": "c", "type": "quantitative"}, "y": {"field": "q", "type": "quantitative", "scale": {"domain": [100, 650], "nice": false, "zero": false}, "axis": {"orient": "right", "values": [100,200,300,400,500,600], "title": "Capacity (mAh)", "labelPadding": 0, "titlePadding": 5, "labelOverlap": false, "zindex": 2}}, "color": {"datum": "Charge capacity"}, "shape": {"datum": "Charge capacity"}}},
    {"data": {"name": "cB"}, "mark": {"type": "point", "filled": false, "fill": "#ffffff", "fillOpacity": 1, "strokeWidth": 1.6, "size": 26, "opacity": 1},
     "encoding": {"x": {"field": "c", "type": "quantitative"}, "y": {"field": "d", "type": "quantitative", "axis": {"orient": "right", "values": [100,200,300,400,500,600], "title": "Capacity (mAh)", "labelPadding": 0, "titlePadding": 5, "labelOverlap": false, "zindex": 2}}, "color": {"datum": "Discharge capacity"}, "shape": {"datum": "Discharge capacity"}}}
   ]}
  ],
  "resolve": {"scale": {"y": "independent"}}
 },
 {"width": 252, "height": 185,
  "layer": [
   {"data": {"name": "vE"}, "mark": {"type": "line", "strokeWidth": 1.6, "interpolate": "catmull-rom"},
    "encoding": {"x": {"field": "x", "type": "quantitative", "scale": {"domain": [0, 431], "nice": false}, "axis": {"values": [0,100,200,300,400], "title": "Capacity (mAh)", "labelPadding": 1, "titlePadding": 4, "labelOverlap": false}},
     "y": {"field": "v", "type": "quantitative", "scale": {"domain": [0.4, 1.4], "nice": false, "zero": false}, "axis": {"tickCount": 5, "format": ".1f", "title": "Voltage (V)", "labelPadding": 1, "titlePadding": 3, "labelOverlap": false, "labelSeparation": -40}},
     "color": {"field": "s", "type": "nominal", "scale": {"domain": ["Without PB","With PB"], "range": ["#2a9490","#d8287e"]}, "legend": {"orient": "none", "legendX": 25, "legendY": 147, "title": null, "symbolType": "M-6,0H6", "symbolSize": 37, "symbolStrokeWidth": 1.6, "labelOffset": 19, "rowPadding": 5}},
     "detail": {"field": "g"}, "order": {"field": "i", "type": "quantitative"}}},
   {"data": {"values": [{}]}, "mark": {"type": "rule", "color": "#1a2a80", "strokeWidth": 1.3}, "encoding": {"x": {"datum": 300.5}, "x2": {"datum": 408}, "y": {"datum": 1.274}}},
   {"data": {"values": [{}]}, "mark": {"type": "point", "shape": "triangle-right", "filled": true, "size": 30, "color": "#1a2a80", "opacity": 1}, "encoding": {"x": {"datum": 409}, "y": {"datum": 1.274}}},
   {"data": {"values": [{}]}, "mark": {"type": "text", "font": "Liberation Serif", "fontWeight": "bold", "fontSize": 13, "color": "#1a2a80"}, "encoding": {"x": {"datum": 357}, "y": {"datum": 1.319}, "text": {"value": "112.5 mAh"}}},
   {"data": {"values": [{}]}, "mark": {"type": "text", "font": "Liberation Serif", "fontWeight": "bold", "fontSize": 18, "color": "#2a9490"}, "encoding": {"x": {"datum": 74}, "y": {"datum": 1.012}, "text": {"value": "0.89 V"}}},
   {"data": {"values": [{}]}, "mark": {"type": "text", "font": "Liberation Serif", "fontWeight": "bold", "fontSize": 18, "color": "#d8287e"}, "encoding": {"x": {"datum": 66}, "y": {"datum": 0.751}, "text": {"value": "0.85 V"}}},
   {"data": {"values": [{}]}, "mark": {"type": "text", "font": "Liberation Sans", "fontWeight": "bold", "fontSize": 26, "align": "left", "baseline": "alphabetic", "color": "#000"}, "encoding": {"x": {"datum": -73.5}, "y": {"datum": 1.4}, "text": {"value": "e"}}}
  ]
 }
], "spacing": 57, "bounds": "flush", "resolve": {"scale": {"x": "independent", "y": "independent", "color": "independent", "shape": "independent"}}},
{"vconcat": [
 {"width": 252, "height": 186,
  "layer": [
   {"layer": [
    {"data": {"name": "tC"}, "mark": {"type": "area", "orient": "horizontal", "fill": "#d3ecf7", "fillOpacity": 0.85, "stroke": "#8ccfe8", "strokeWidth": 1.2},
     "encoding": {"x": {"field": "x", "type": "quantitative", "scale": {"domain": [-1, 166], "nice": false, "zero": false}, "axis": {"values": [0,40,80,120,160], "title": "Cycle number", "labelPadding": 1, "titlePadding": 7, "labelOverlap": false, "zindex": 2}}, "x2": {"field": "x2"},
      "y": {"field": "y", "type": "quantitative", "scale": {"domain": [0, 110], "nice": false}, "axis": {"tickCount": 6, "title": "Efficiency (%)", "labelPadding": 1, "titlePadding": 2, "labelOverlap": false, "labelSeparation": -40, "zindex": 2}}}},
    {"data": {"name": "rC"}, "mark": {"type": "rect", "cornerRadius": 3, "fill": "#dff2fa", "stroke": "#2ba7d6", "strokeWidth": 2},
     "encoding": {"x": {"field": "x", "type": "quantitative"}, "x2": {"field": "x2"}, "y": {"field": "y", "type": "quantitative"}, "y2": {"field": "y2"}}},
    {"data": {"name": "aC"}, "mark": {"type": "line", "strokeWidth": 1.3},
     "encoding": {"x": {"field": "x", "type": "quantitative"}, "y": {"field": "y", "type": "quantitative"}, "detail": {"field": "k"}, "order": {"field": "i", "type": "quantitative"}, "stroke": {"condition": {"test": "datum.k==='m'", "value": "#e0268a"}, "value": "#138580"}}},
    {"data": {"name": "aC"}, "transform": [{"filter": "datum.i===2"}], "mark": {"type": "point", "filled": true, "size": 28, "opacity": 1},
     "encoding": {"x": {"field": "x", "type": "quantitative"}, "y": {"field": "y", "type": "quantitative"}, "shape": {"condition": {"test": "datum.k==='m'", "value": "triangle-left"}, "value": "triangle-right"}, "fill": {"condition": {"test": "datum.k==='m'", "value": "#e0268a"}, "value": "#138580"}}},
    {"data": {"name": "cC"}, "mark": {"type": "point", "filled": true, "size": 42, "opacity": 1},
     "encoding": {"x": {"field": "c", "type": "quantitative"}, "y": {"field": "e", "type": "quantitative"},
      "color": {"datum": "Coulombic efficiency", "scale": {"domain": ["Coulombic efficiency","Charge capacity","Discharge capacity"], "range": ["#e0268a","#eea236","#138580"]}, "legend": {"orient": "none", "legendX": 70, "legendY": 124, "title": null, "symbolSize": 60, "labelOffset": 16, "rowPadding": 5}},
      "shape": {"datum": "Coulombic efficiency", "scale": {"domain": ["Coulombic efficiency","Charge capacity","Discharge capacity"], "range": ["circle","triangle-up","square"]}, "legend": {"orient": "none", "legendX": 70, "legendY": 124, "title": null, "symbolSize": 60, "labelOffset": 16, "rowPadding": 5}}}},
    {"data": {"values": [{}]}, "mark": {"type": "text", "font": "Liberation Sans", "fontWeight": "bold", "fontSize": 26, "align": "left", "baseline": "alphabetic", "color": "#000"},
     "encoding": {"x": {"datum": -24.8}, "y": {"datum": 111}, "text": {"value": "c"}}},
    {"data": {"values": [{}]}, "mark": {"type": "text", "font": "Liberation Serif", "fontWeight": "bold", "fontSize": 25, "align": "center", "baseline": "alphabetic", "color": "#1c2180"},
     "encoding": {"x": {"datum": 82.5}, "y": {"datum": 118.5}, "text": {"value": "50°C"}}}
   ]},
   {"layer": [
    {"data": {"name": "cC"}, "mark": {"type": "point", "filled": true, "size": 30, "opacity": 1},
     "encoding": {"x": {"field": "c", "type": "quantitative"}, "y": {"field": "q", "type": "quantitative", "scale": {"domain": [100, 650], "nice": false, "zero": false}, "axis": {"orient": "right", "values": [100,200,300,400,500,600], "title": "Capacity (mAh)", "labelPadding": 0, "titlePadding": 5, "labelOverlap": false, "zindex": 2}}, "color": {"datum": "Charge capacity"}, "shape": {"datum": "Charge capacity"}}},
    {"data": {"name": "cC"}, "mark": {"type": "point", "filled": false, "fill": "#ffffff", "fillOpacity": 1, "strokeWidth": 1.6, "size": 26, "opacity": 1},
     "encoding": {"x": {"field": "c", "type": "quantitative"}, "y": {"field": "d", "type": "quantitative", "axis": {"orient": "right", "values": [100,200,300,400,500,600], "title": "Capacity (mAh)", "labelPadding": 0, "titlePadding": 5, "labelOverlap": false, "zindex": 2}}, "color": {"datum": "Discharge capacity"}, "shape": {"datum": "Discharge capacity"}}}
   ]}
  ],
  "resolve": {"scale": {"y": "independent"}}
 },
 {"width": 252, "height": 185,
  "layer": [
   {"data": {"name": "vF"}, "mark": {"type": "line", "strokeWidth": 1.6, "interpolate": "catmull-rom"},
    "encoding": {"x": {"field": "x", "type": "quantitative", "scale": {"domain": [0, 453], "nice": false}, "axis": {"values": [0,100,200,300,400], "title": "Capacity (mAh)", "labelPadding": 1, "titlePadding": 4, "labelOverlap": false}},
     "y": {"field": "v", "type": "quantitative", "scale": {"domain": [0.4, 1.4], "nice": false, "zero": false}, "axis": {"tickCount": 5, "format": ".1f", "title": "Voltage (V)", "labelPadding": 1, "titlePadding": 3, "labelOverlap": false, "labelSeparation": -40}},
     "color": {"field": "s", "type": "nominal", "scale": {"domain": ["Without PB","With PB"], "range": ["#2a9490","#d8287e"]}, "legend": {"orient": "none", "legendX": 25, "legendY": 147, "title": null, "symbolType": "M-6,0H6", "symbolSize": 37, "symbolStrokeWidth": 1.6, "labelOffset": 19, "rowPadding": 5}},
     "detail": {"field": "g"}, "order": {"field": "i", "type": "quantitative"}}},
   {"data": {"values": [{}]}, "mark": {"type": "rule", "color": "#1a2a80", "strokeWidth": 1.3}, "encoding": {"x": {"datum": 316}, "x2": {"datum": 435}, "y": {"datum": 1.283}}},
   {"data": {"values": [{}]}, "mark": {"type": "point", "shape": "triangle-right", "filled": true, "size": 30, "color": "#1a2a80", "opacity": 1}, "encoding": {"x": {"datum": 436}, "y": {"datum": 1.283}}},
   {"data": {"values": [{}]}, "mark": {"type": "text", "font": "Liberation Serif", "fontWeight": "bold", "fontSize": 13, "color": "#1a2a80"}, "encoding": {"x": {"datum": 377}, "y": {"datum": 1.322}, "text": {"value": "130.6 mAh"}}},
   {"data": {"values": [{}]}, "mark": {"type": "text", "font": "Liberation Serif", "fontWeight": "bold", "fontSize": 18, "color": "#2a9490"}, "encoding": {"x": {"datum": 77}, "y": {"datum": 0.967}, "text": {"value": "0.87 V"}}},
   {"data": {"values": [{}]}, "mark": {"type": "text", "font": "Liberation Serif", "fontWeight": "bold", "fontSize": 18, "color": "#d8287e"}, "encoding": {"x": {"datum": 74}, "y": {"datum": 0.72}, "text": {"value": "0.83 V"}}},
   {"data": {"values": [{}]}, "mark": {"type": "text", "font": "Liberation Sans", "fontWeight": "bold", "fontSize": 26, "align": "left", "baseline": "alphabetic", "color": "#000"}, "encoding": {"x": {"datum": -64.7}, "y": {"datum": 1.4}, "text": {"value": "f"}}}
  ]
 }
], "spacing": 57, "bounds": "flush", "resolve": {"scale": {"x": "independent", "y": "independent", "color": "independent", "shape": "independent"}}}
],
"spacing": 362,
"bounds": "flush",
"resolve": {"scale": {"x": "independent", "y": "independent", "color": "independent", "shape": "independent"}}
}
